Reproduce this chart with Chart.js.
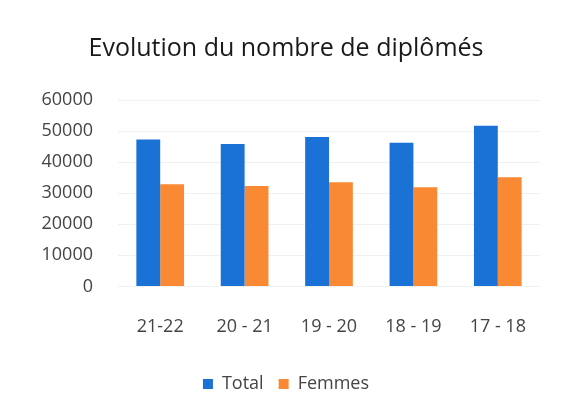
<!DOCTYPE html>
<html>
<head>
<meta charset="utf-8">
<script src="https://cdn.jsdelivr.net/npm/chart.js@4"></script>
<style>
  html, body { margin: 0; padding: 0; background: #fff; }
  #wrap { width: 564px; height: 405px; }
</style>
</head>
<body>
<div id="wrap"><canvas id="diplomesChart"></canvas></div>
<script>
const years = ['21-22', '20 - 21', '19 - 20', '18 - 19', '17 - 18'];
const totalValues = [47300, 45800, 48100, 46200, 51700];
const femmesValues = [32900, 32300, 33500, 31900, 35100];
const yTicks = [0, 10000, 20000, 30000, 40000, 50000, 60000];

document.addEventListener('DOMContentLoaded', function () {
    const ctx = document.getElementById('diplomesChart');
    Chart.defaults.font.family = '"Open Sans", sans-serif';
    new Chart(ctx.getContext('2d'), {
        type: 'bar',
        data: {
            labels: years,
            datasets: [{
                label: 'Total',
                data: totalValues,
                backgroundColor: '#1a72d6',
                barPercentage: 1,
                categoryPercentage: 0.565
            }, {
                label: 'Femmes',
                data: femmesValues,
                backgroundColor: '#f98a33',
                barPercentage: 1,
                categoryPercentage: 0.565
            }]
        },
        options: {
            responsive: true,
            maintainAspectRatio: false,
            animation: false,
            layout: { padding: { left: 22, right: 14, top: 34, bottom: 2 } },
            scales: {
                x: {
                    grid: { display: false },
                    border: { display: false },
                    ticks: { color: '#444', font: { size: 18 }, padding: 22, maxRotation: 0 }
                },
                y: {
                    min: 0,
                    max: 60000,
                    afterBuildTicks: function (axis) {
                        axis.ticks = yTicks.map(v => ({ value: v }));
                    },
                    afterFit: function (axis) { axis.width = 96; },
                    grid: { color: '#f0f0f0', drawTicks: false },
                    border: { display: false },
                    ticks: {
                        color: '#444',
                        font: { size: 18 },
                        padding: 25,
                        callback: function (value) { return String(value); }
                    }
                },
                // empty right axis, only keeps the plot off the right edge
                yRight: {
                    position: 'right',
                    afterFit: function (axis) { axis.width = 10; },
                    grid: { display: false },
                    border: { display: false },
                    ticks: { display: false }
                }
            },
            plugins: {
                legend: {
                    position: 'bottom',
                    labels: { boxWidth: 10, boxHeight: 10, color: '#444', font: { size: 18 }, padding: 15 }
                },
                title: {
                    display: true,
                    text: 'Evolution du nombre de diplômés',
                    color: '#1a1a1a',
                    font: { size: 25, weight: 'normal' },
                    padding: { top: 0, bottom: 36 }
                },
                tooltip: { enabled: false }
            }
        }
    });
});
</script>
</body>
</html>
